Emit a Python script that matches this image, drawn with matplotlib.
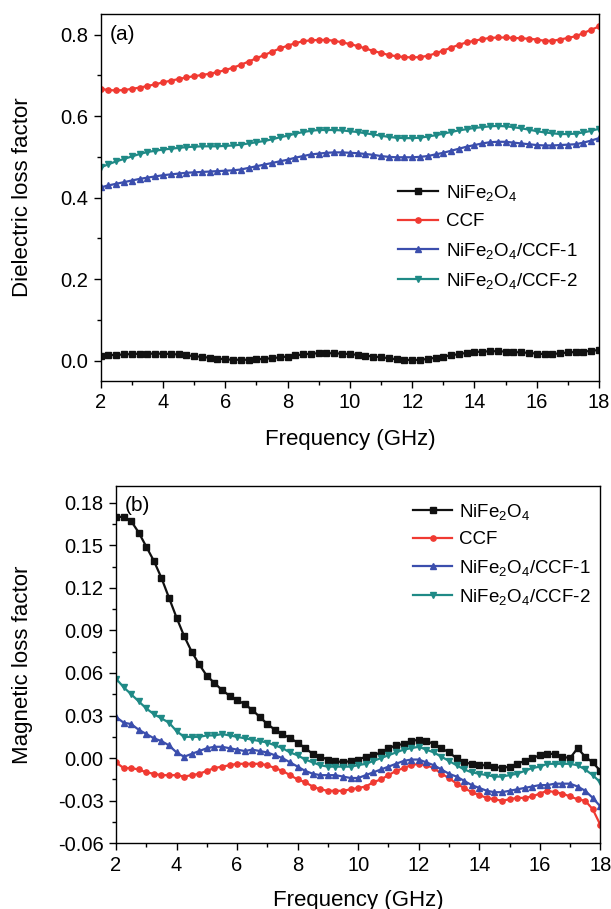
import numpy as np
import matplotlib
matplotlib.use('Agg')
import matplotlib.pyplot as plt
from matplotlib.ticker import MultipleLocator, AutoMinorLocator, FormatStrFormatter

plt.rcParams['font.family'] = ['Liberation Sans', 'DejaVu Sans']
plt.rcParams['mathtext.fontset'] = 'custom'
plt.rcParams['mathtext.rm'] = 'Liberation Sans'
plt.rcParams['mathtext.default'] = 'regular'
plt.rcParams['axes.unicode_minus'] = False

# frequency grid, GHz
freq = np.linspace(2, 18, 65)

labels = ['NiFe$_2$O$_4$', 'CCF', 'NiFe$_2$O$_4$/CCF-1', 'NiFe$_2$O$_4$/CCF-2']

# (a) dielectric loss factor
diel_nife = [0.012, 0.013, 0.014, 0.015, 0.016, 0.017, 0.017, 0.017, 0.017, 0.016,
             0.015, 0.013, 0.011, 0.009, 0.007, 0.005, 0.003, 0.002, 0.002, 0.002,
             0.003, 0.004, 0.006, 0.008, 0.010, 0.013, 0.015, 0.017, 0.018, 0.018,
             0.018, 0.017, 0.016, 0.014, 0.012, 0.010, 0.008, 0.006, 0.003, 0.002,
             0.001, 0.002, 0.004, 0.007, 0.010, 0.013, 0.016, 0.019, 0.021, 0.022,
             0.023, 0.023, 0.022, 0.021, 0.020, 0.019, 0.017, 0.016, 0.016, 0.018,
             0.020, 0.021, 0.022, 0.024, 0.026]
diel_ccf = [0.667, 0.664, 0.663, 0.664, 0.667, 0.670, 0.674, 0.678, 0.683, 0.687,
            0.691, 0.695, 0.698, 0.701, 0.704, 0.708, 0.713, 0.719, 0.726, 0.734,
            0.742, 0.750, 0.758, 0.766, 0.773, 0.779, 0.784, 0.786, 0.787, 0.787,
            0.785, 0.781, 0.777, 0.772, 0.766, 0.760, 0.755, 0.750, 0.747, 0.745,
            0.744, 0.745, 0.748, 0.754, 0.761, 0.768, 0.775, 0.781, 0.785, 0.789,
            0.792, 0.793, 0.793, 0.792, 0.791, 0.790, 0.788, 0.785, 0.785, 0.788,
            0.792, 0.796, 0.804, 0.812, 0.820]
diel_c1 = [0.425, 0.430, 0.434, 0.438, 0.442, 0.446, 0.449, 0.452, 0.455, 0.457,
           0.459, 0.461, 0.462, 0.463, 0.464, 0.465, 0.466, 0.467, 0.469, 0.473,
           0.477, 0.481, 0.485, 0.489, 0.493, 0.498, 0.502, 0.506, 0.508, 0.510,
           0.511, 0.511, 0.510, 0.509, 0.507, 0.505, 0.502, 0.500, 0.499, 0.499,
           0.499, 0.500, 0.502, 0.506, 0.510, 0.515, 0.520, 0.525, 0.529, 0.533,
           0.536, 0.537, 0.537, 0.535, 0.533, 0.531, 0.529, 0.528, 0.528, 0.529,
           0.530, 0.531, 0.535, 0.540, 0.546]
diel_c2 = [0.474, 0.482, 0.489, 0.495, 0.501, 0.507, 0.512, 0.515, 0.518, 0.520,
           0.522, 0.524, 0.525, 0.526, 0.526, 0.526, 0.527, 0.528, 0.530, 0.533,
           0.536, 0.539, 0.543, 0.548, 0.552, 0.557, 0.561, 0.564, 0.566, 0.566,
           0.566, 0.565, 0.563, 0.561, 0.558, 0.555, 0.552, 0.549, 0.547, 0.546,
           0.546, 0.547, 0.550, 0.553, 0.557, 0.561, 0.565, 0.568, 0.571, 0.573,
           0.575, 0.576, 0.575, 0.573, 0.570, 0.567, 0.563, 0.560, 0.558, 0.556,
           0.556, 0.557, 0.560, 0.564, 0.569]

# (b) magnetic loss factor
mag_nife = [0.170, 0.170, 0.167, 0.159, 0.149, 0.139, 0.127, 0.113, 0.099, 0.086,
            0.075, 0.066, 0.058, 0.053, 0.048, 0.044, 0.041, 0.038, 0.034, 0.029,
            0.024, 0.020, 0.017, 0.014, 0.011, 0.007, 0.003, 0.001, -0.001, -0.002,
            -0.003, -0.002, -0.001, 0.001, 0.002, 0.004, 0.007, 0.009, 0.010, 0.012,
            0.013, 0.012, 0.010, 0.007, 0.004, 0.000, -0.003, -0.004, -0.005, -0.005,
            -0.006, -0.007, -0.006, -0.004, -0.002, 0.000, 0.002, 0.003, 0.003, 0.001,
            0.000, 0.007, 0.001, -0.003, -0.009]
mag_ccf = [-0.003, -0.007, -0.007, -0.008, -0.010, -0.011, -0.012, -0.012, -0.012, -0.013,
           -0.012, -0.011, -0.009, -0.007, -0.006, -0.005, -0.004, -0.004, -0.004, -0.004,
           -0.005, -0.007, -0.009, -0.012, -0.015, -0.017, -0.020, -0.022, -0.023, -0.023,
           -0.023, -0.022, -0.021, -0.020, -0.017, -0.015, -0.012, -0.009, -0.007, -0.005,
           -0.004, -0.005, -0.007, -0.011, -0.014, -0.018, -0.021, -0.024, -0.026, -0.028,
           -0.029, -0.030, -0.029, -0.028, -0.028, -0.027, -0.025, -0.023, -0.024, -0.025,
           -0.027, -0.029, -0.030, -0.036, -0.047]
mag_c1 = [0.029, 0.025, 0.024, 0.020, 0.017, 0.014, 0.012, 0.009, 0.004, 0.001,
          0.003, 0.005, 0.007, 0.008, 0.008, 0.007, 0.006, 0.005, 0.006, 0.005,
          0.004, 0.002, 0.000, -0.003, -0.006, -0.009, -0.011, -0.012, -0.012, -0.012,
          -0.013, -0.014, -0.014, -0.012, -0.010, -0.008, -0.006, -0.004, -0.002, -0.001,
          -0.001, -0.003, -0.005, -0.008, -0.011, -0.013, -0.016, -0.019, -0.021, -0.023,
          -0.024, -0.024, -0.023, -0.022, -0.021, -0.020, -0.019, -0.019, -0.018, -0.018,
          -0.018, -0.020, -0.023, -0.028, -0.034]
mag_c2 = [0.056, 0.050, 0.045, 0.040, 0.035, 0.031, 0.028, 0.025, 0.019, 0.015,
          0.015, 0.015, 0.016, 0.016, 0.017, 0.016, 0.015, 0.014, 0.013, 0.012,
          0.011, 0.009, 0.007, 0.004, 0.002, -0.001, -0.003, -0.005, -0.006, -0.006,
          -0.006, -0.006, -0.005, -0.004, -0.002, 0.000, 0.002, 0.004, 0.006, 0.007,
          0.008, 0.006, 0.004, 0.001, -0.002, -0.005, -0.008, -0.010, -0.011, -0.012,
          -0.013, -0.013, -0.012, -0.011, -0.009, -0.007, -0.006, -0.004, -0.004, -0.004,
          -0.004, -0.005, -0.008, -0.012, -0.017]

colors = ['#111111', '#f03a32', '#3b4ead', '#1f8a86']
markers = ['s', 'o', '^', 'v']
msizes = [3.8, 3.8, 4.8, 4.8]


def style_axes(ax, ylabel, panel, ylim, ymajor, fmt, label_x):
    ax.set_xlim(2, 18)
    ax.set_ylim(*ylim)
    ax.xaxis.set_major_locator(MultipleLocator(2))
    ax.xaxis.set_minor_locator(AutoMinorLocator(2))
    ax.yaxis.set_major_locator(MultipleLocator(ymajor))
    ax.yaxis.set_minor_locator(AutoMinorLocator(2))
    ax.yaxis.set_major_formatter(FormatStrFormatter(fmt))
    ax.tick_params(which='both', direction='out', top=False, right=False, labelsize=14.5, pad=4)
    ax.tick_params(which='major', length=5, width=1)
    ax.tick_params(which='minor', length=3, width=1)
    for s in ax.spines.values():
        s.set_linewidth(1.0)
    ax.set_xlabel('Frequency (GHz)', fontsize=16)
    ax.set_ylabel(ylabel, fontsize=16)
    ax.yaxis.set_label_coords(label_x, 0.5)
    ax.xaxis.set_label_coords(0.5, -0.13)
    ax.text(0.018, 0.945, panel, transform=ax.transAxes, fontsize=15, va='center', ha='left')


fig = plt.figure(figsize=(6.11, 9.09), dpi=100)
ax1 = fig.add_axes([0.1648, 0.5809, 0.8156, 0.4034])
ax2 = fig.add_axes([0.1899, 0.0723, 0.7926, 0.3934])

for ys, c, m, ms, lab in zip([diel_nife, diel_ccf, diel_c1, diel_c2], colors, markers, msizes, labels):
    ax1.plot(freq, ys, color=c, marker=m, markersize=ms, linewidth=1.6, label=lab)
for ys, c, m, ms, lab in zip([mag_nife, mag_ccf, mag_c1, mag_c2], colors, markers, msizes, labels):
    ax2.plot(freq, ys, color=c, marker=m, markersize=ms, linewidth=1.6, label=lab)

style_axes(ax1, 'Dielectric loss factor', '(a)', (-0.05, 0.85), 0.2, '%.1f', -0.136)
style_axes(ax2, 'Magnetic loss factor', '(b)', (-0.06, 0.192), 0.03, '%.2f', -0.171)

ax1.legend(loc='upper left', bbox_to_anchor=(0.597, 0.54), frameon=False, fontsize=13.5,
           borderpad=0, borderaxespad=0, handlelength=2.1, handletextpad=0.45, labelspacing=0.55)
ax2.legend(loc='upper left', bbox_to_anchor=(0.613, 0.955), frameon=False, fontsize=13.5,
           borderpad=0, borderaxespad=0, handlelength=2.1, handletextpad=0.35, labelspacing=0.5)

plt.savefig('out.png', dpi=100)
